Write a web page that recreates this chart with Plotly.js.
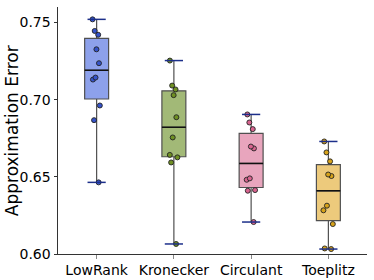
<!DOCTYPE html>
<html>
<head>
<meta charset="utf-8">
<script src="https://cdn.plot.ly/plotly-3.0.1.min.js"></script>
<style>html,body{margin:0;padding:0;background:#fff;}#chart{width:374px;height:280px;}</style>
</head>
<body>
<div id="chart"></div>
<script>
var categories = ['LowRank', 'Kronecker', 'Circulant', 'Toeplitz'];
var lowRank   = [0.752, 0.7445, 0.742, 0.7326, 0.7236, 0.7143, 0.713, 0.6962, 0.6867, 0.6464];
var kronecker = [0.7253, 0.7091, 0.7066, 0.7029, 0.6886, 0.6755, 0.6642, 0.6626, 0.6593, 0.6065];
var circulant = [0.6904, 0.6852, 0.6809, 0.6696, 0.6684, 0.649, 0.6481, 0.6414, 0.641, 0.6207];
var toeplitz  = [0.6729, 0.6658, 0.66, 0.6515, 0.6505, 0.6313, 0.6283, 0.6194, 0.6036, 0.6032];
var seriesValues = [lowRank, kronecker, circulant, toeplitz];
var yTickVals = [0.60, 0.65, 0.70, 0.75];
var yTickText = ['0.60', '0.65', '0.70', '0.75'];
var yTitle = 'Approximation Error';

var fillColors = ['#8da1eb', '#a2b977', '#e8a5bd', '#edca7c'];
var pointColors = ['#3553c9', '#6e8f22', '#d8648f', '#d6a21a'];

function quantile(sorted, p) {
  var pos = p * (sorted.length - 1);
  var lo = Math.floor(pos), hi = Math.ceil(pos);
  return sorted[lo] + (pos - lo) * (sorted[hi] - sorted[lo]);
}
function stats(vals) {
  var s = vals.slice().sort(function (a, b) { return a - b; });
  var q1 = quantile(s, 0.25), med = quantile(s, 0.5), q3 = quantile(s, 0.75);
  var iqr = q3 - q1;
  var lo = s.filter(function (v) { return v >= q1 - 1.5 * iqr; })[0];
  var hiArr = s.filter(function (v) { return v <= q3 + 1.5 * iqr; });
  var hi = hiArr[hiArr.length - 1];
  return {q1: q1, med: med, q3: q3, lo: lo, hi: hi};
}

var data = [];
var st = seriesValues.map(stats);

// whisker caps
data.push({
  type: 'scatter', mode: 'markers',
  x: categories.concat(categories),
  y: st.map(function (s) { return s.lo; }).concat(st.map(function (s) { return s.hi; })),
  marker: {symbol: 'line-ew-open', size: 13, color: '#1c2f8a', line: {color: '#1c2f8a', width: 1.5}},
  showlegend: false, hoverinfo: 'skip'
});

categories.forEach(function (c, i) {
  var s = st[i];
  data.push({
    type: 'box', x: [c], q1: [s.q1], median: [s.med], q3: [s.q3],
    lowerfence: [s.lo], upperfence: [s.hi],
    width: 0.31, whiskerwidth: 0,
    fillcolor: fillColors[i],
    line: {color: '#505050', width: 1.2},
    boxpoints: false, showlegend: false
  });
});
// black median lines
categories.forEach(function (c, i) {
  var s = st[i];
  data.push({
    type: 'box', x: [c], q1: [s.med], median: [s.med], q3: [s.med],
    lowerfence: [s.med], upperfence: [s.med],
    width: 0.31, whiskerwidth: 0,
    fillcolor: 'rgba(0,0,0,0)',
    line: {color: '#111', width: 1.5},
    boxpoints: false, showlegend: false
  });
});
categories.forEach(function (c, i) {
  data.push({
    type: 'box', x: seriesValues[i].map(function () { return c; }), y: seriesValues[i],
    width: 0.31, boxpoints: 'all', jitter: 0.5, pointpos: 0,
    fillcolor: 'rgba(0,0,0,0)', line: {color: 'rgba(0,0,0,0)', width: 0},
    marker: {color: pointColors[i], size: 5, line: {color: '#222', width: 0.9}},
    showlegend: false
  });
});

var layout = {
  width: 374, height: 280,
  margin: {l: 58, r: 7, t: 7, b: 26},
  paper_bgcolor: '#fff', plot_bgcolor: '#fff',
  boxmode: 'overlay',
  showlegend: false,
  font: {family: 'DejaVu Sans', color: '#000', size: 14},
  xaxis: {
    type: 'category', categoryorder: 'array', categoryarray: categories,
    range: [-0.5, 3.5], showgrid: false, zeroline: false,
    showline: true, linecolor: '#333', linewidth: 1,
    ticks: 'outside', ticklen: 3.5, tickcolor: '#888', tickwidth: 1,
    tickfont: {size: 14, family: 'DejaVu Sans', color: '#000'}
  },
  yaxis: {
    range: [0.60, 0.76], showgrid: false, zeroline: false,
    showline: true, linecolor: '#333', linewidth: 1,
    ticks: 'outside', ticklen: 3.5, tickcolor: '#333', tickwidth: 1,
    tickvals: yTickVals, ticktext: yTickText,
    tickfont: {size: 14, family: 'DejaVu Sans', color: '#000'}
  },
  annotations: [{
    text: yTitle, xref: 'paper', yref: 'paper',
    x: -0.15, y: 0.5, xanchor: 'center', yanchor: 'middle',
    textangle: -90, showarrow: false,
    font: {size: 17, family: 'DejaVu Sans', color: '#000'}
  }]
};

Plotly.newPlot('chart', data, layout, {displayModeBar: false, staticPlot: true});
</script>
</body>
</html>
